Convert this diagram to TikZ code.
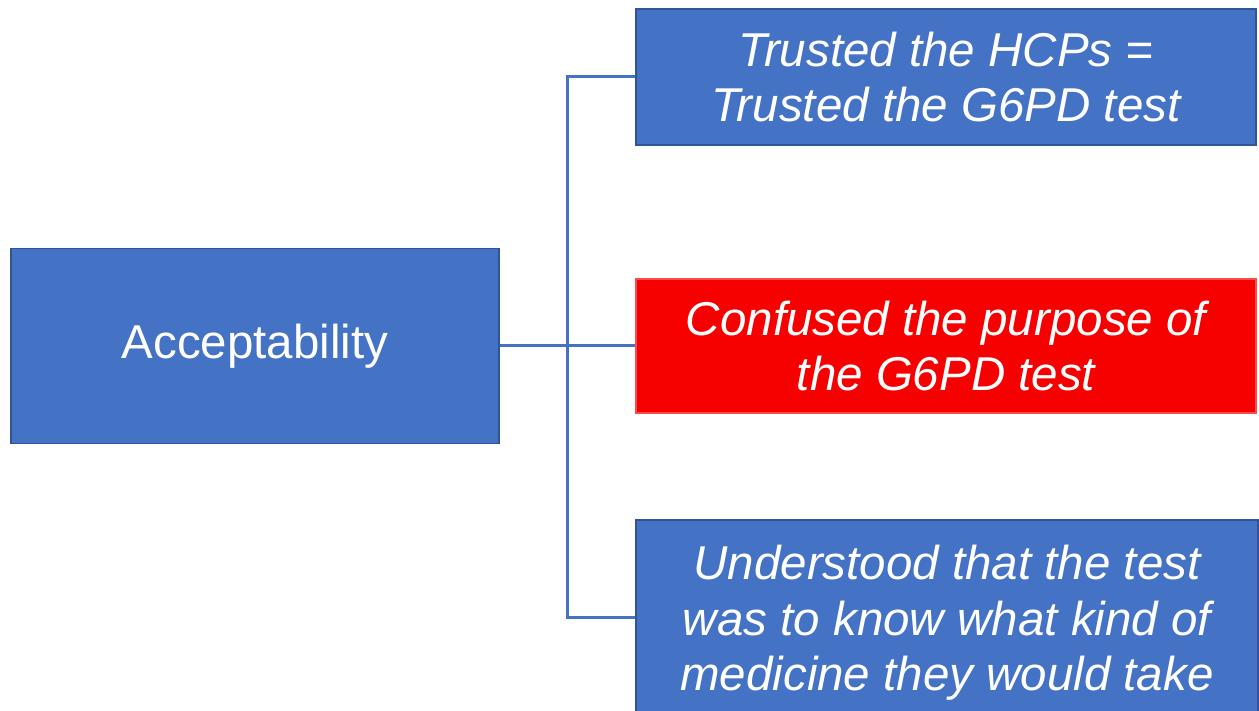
\documentclass[tikz,border=0pt]{standalone}
\usepackage{fontspec}
\setmainfont{Liberation Sans}
\definecolor{boxblue}{HTML}{4472C4}
\definecolor{boxedge}{HTML}{2F5597}
\definecolor{boxred}{HTML}{F70000}
\begin{document}
\begin{tikzpicture}[x=1pt,y=-1pt,
  base/.style={draw=boxedge, line width=1.2pt, fill=boxblue, text=white, inner sep=0pt, align=center, font=\fontsize{47.5}{55.5}\selectfont},
  leaf/.style={base, font=\fontsize{47.5}{55.5}\selectfont\itshape, minimum width=620pt},
  redleaf/.style={leaf, fill=boxred, draw=boxred!70!white},
  link/.style={draw=boxblue, line width=3pt}]
\useasboundingbox (0,0) rectangle (1259,711);
\node[base, minimum width=488pt, minimum height=195pt] (acc) at (255,346) {Acceptability};
\node[leaf, minimum height=136pt] (top) at (946,77) {Trusted the HCPs =\\Trusted the G6PD test};
\node[redleaf, minimum height=134pt] (red) at (946,346) {Confused the purpose of\\the G6PD test};
\node[leaf, minimum width=622pt, minimum height=206pt] (bot) at (947,623) {Understood that the test\\was to know what kind of\\medicine they would take};
\coordinate (j) at (567,346);
\draw[link] (acc.east) -- (red.west);
\draw[link] (top.west) -| (j) |- ([yshift=6pt]bot.west);
\end{tikzpicture}
\end{document}
